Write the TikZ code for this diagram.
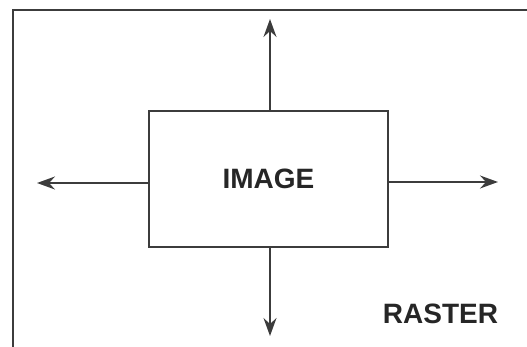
\documentclass[tikz,border=0pt]{standalone}
\usepackage{fontspec}
\setmainfont{Liberation Sans}
\usepackage{tikz}
\usetikzlibrary{positioning,arrows.meta}
\definecolor{inkgray}{RGB}{60,60,60}

\begin{document}
\begin{tikzpicture}[x=1pt,y=-1pt,
    frameline/.style={draw=inkgray, line width=1.6pt},
    outarrow/.style={draw=inkgray, line width=1.4pt,
        -{Stealth[length=18pt,width=13pt,inset=6pt]}},
    boxlabel/.style={font=\fontsize{28}{34}\selectfont\bfseries, text=black!85}]
    \useasboundingbox (0,0) rectangle (527,347);
    % raster frame (only left and top edges are in view)
    \draw[frameline] (13,347) |- (527,10);
    % image box
    \node[draw=inkgray, line width=1.4pt, minimum width=239pt, minimum height=136pt,
        inner sep=0pt, boxlabel] (img) at (268.5,179) {IMAGE};
    \node[boxlabel, anchor=center] (raster) at (440.5,313.5) {RASTER};
    % arrow tips
    \coordinate (tipN) at (270,19);
    \coordinate (tipS) at (270,336);
    \coordinate (tipW) at (37,183);
    \coordinate (tipE) at (498,182);
    \draw[outarrow] (img.north -| tipN) -- (tipN);
    \draw[outarrow] (img.south -| tipS) -- (tipS);
    \draw[outarrow] (img.west |- tipW) -- (tipW);
    \draw[outarrow] (img.east |- tipE) -- (tipE);
\end{tikzpicture}
\end{document}
